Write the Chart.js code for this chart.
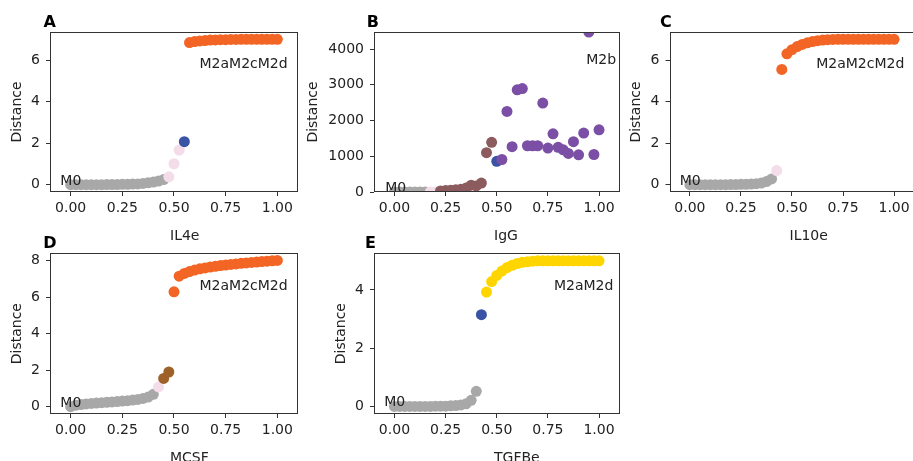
<!DOCTYPE html>
<html><head><meta charset="utf-8">
<script src="https://cdn.jsdelivr.net/npm/chart.js@4.4.1/dist/chart.umd.min.js"></script>
<style>
html,body{margin:0;padding:0;background:#fff;overflow:hidden;width:913px;height:461px;position:relative}
canvas{position:absolute}
</style></head><body>
<canvas id="cA"></canvas><canvas id="cB"></canvas><canvas id="cC"></canvas><canvas id="cD"></canvas><canvas id="cE"></canvas>
<script>
// ---------------- DATA ----------------
const doseLevels = [0, 0.025, 0.05, 0.075, 0.1, 0.125, 0.15, 0.175, 0.2, 0.225,
  0.25, 0.275, 0.3, 0.325, 0.35, 0.375, 0.4, 0.425, 0.45, 0.475,
  0.5, 0.525, 0.55, 0.575, 0.6, 0.625, 0.65, 0.675, 0.7, 0.725,
  0.75, 0.775, 0.8, 0.825, 0.85, 0.875, 0.9, 0.925, 0.95, 0.975, 1.0];

const xTickValues = [0, 0.25, 0.5, 0.75, 1.0];
const xTickLabels = ["0.00", "0.25", "0.50", "0.75", "1.00"];

// Panel A: IL4e
const il4eDistance = [0, 0, 0, 0, 0, 0, 0, 0.01, 0.01, 0.01,
  0.02, 0.02, 0.03, 0.04, 0.06, 0.09, 0.13, 0.18, 0.25, 0.38,
  1.01, 1.66, 2.07, 6.84, 6.89, 6.92, 6.94, 6.96, 6.97, 6.98,
  6.98, 6.99, 6.99, 7.0, 7.0, 7.0, 7.0, 7.0, 7.0, 7.0, 7.0];
const il4eState = ["M0","M0","M0","M0","M0","M0","M0","M0","M0","M0",
  "M0","M0","M0","M0","M0","M0","M0","M0","M0","S1",
  "S1","S1","S2","M2aM2cM2d","M2aM2cM2d","M2aM2cM2d","M2aM2cM2d","M2aM2cM2d","M2aM2cM2d","M2aM2cM2d",
  "M2aM2cM2d","M2aM2cM2d","M2aM2cM2d","M2aM2cM2d","M2aM2cM2d","M2aM2cM2d","M2aM2cM2d","M2aM2cM2d","M2aM2cM2d","M2aM2cM2d","M2aM2cM2d"];
const il4eYTicks = [0, 2, 4, 6];

// Panel B: IgG
const iggDistance = [0, 0, 0, 0, 0, 0, 0, 0, 0, 30,
  40, 50, 60, 75, 110, 190, 170, 250, 1100, 1390,
  860, 910, 2255, 1270, 2860, 2895, 1295, 1295, 1295, 2490,
  1230, 1630, 1250, 1180, 1080, 1410, 1040, 1650, 4480, 1050, 1740];
const iggState = ["M0","M0","M0","M0","M0","M0","M0","S1","S1","S3",
  "S3","S3","S3","S3","S3","S3","S3","S3","S3","S3",
  "S2","M2b","M2b","M2b","M2b","M2b","M2b","M2b","M2b","M2b",
  "M2b","M2b","M2b","M2b","M2b","M2b","M2b","M2b","M2b","M2b","M2b"];
const iggYTicks = [0, 1000, 2000, 3000, 4000];

// Panel C: IL10e
const il10eDistance = [0, 0, 0, 0, 0, 0, 0, 0, 0.01, 0.01,
  0.02, 0.02, 0.03, 0.05, 0.08, 0.15, 0.28, 0.68, 5.55, 6.3,
  6.5, 6.65, 6.75, 6.83, 6.89, 6.93, 6.96, 6.98, 6.99, 7.0,
  7.0, 7.0, 7.0, 7.0, 7.0, 7.0, 7.0, 7.0, 7.0, 7.0, 7.0];
const il10eState = ["M0","M0","M0","M0","M0","M0","M0","M0","M0","M0",
  "M0","M0","M0","M0","M0","M0","M0","S1","M2aM2cM2d","M2aM2cM2d",
  "M2aM2cM2d","M2aM2cM2d","M2aM2cM2d","M2aM2cM2d","M2aM2cM2d","M2aM2cM2d","M2aM2cM2d","M2aM2cM2d","M2aM2cM2d","M2aM2cM2d",
  "M2aM2cM2d","M2aM2cM2d","M2aM2cM2d","M2aM2cM2d","M2aM2cM2d","M2aM2cM2d","M2aM2cM2d","M2aM2cM2d","M2aM2cM2d","M2aM2cM2d","M2aM2cM2d"];
const il10eYTicks = [0, 2, 4, 6];

// Panel D: MCSF
const mcsfDistance = [0, 0.08, 0.12, 0.15, 0.18, 0.2, 0.22, 0.24, 0.26, 0.28,
  0.31, 0.33, 0.36, 0.4, 0.45, 0.53, 0.68, 1.08, 1.55, 1.9,
  6.29, 7.15, 7.3, 7.4, 7.48, 7.55, 7.6, 7.65, 7.69, 7.73,
  7.76, 7.79, 7.82, 7.85, 7.87, 7.9, 7.92, 7.95, 7.97, 7.99, 8.01];
const mcsfState = ["M0","M0","M0","M0","M0","M0","M0","M0","M0","M0",
  "M0","M0","M0","M0","M0","M0","M0","S1","S4","S4",
  "M2aM2cM2d","M2aM2cM2d","M2aM2cM2d","M2aM2cM2d","M2aM2cM2d","M2aM2cM2d","M2aM2cM2d","M2aM2cM2d","M2aM2cM2d","M2aM2cM2d",
  "M2aM2cM2d","M2aM2cM2d","M2aM2cM2d","M2aM2cM2d","M2aM2cM2d","M2aM2cM2d","M2aM2cM2d","M2aM2cM2d","M2aM2cM2d","M2aM2cM2d","M2aM2cM2d"];
const mcsfYTicks = [0, 2, 4, 6, 8];

// Panel E: TGFBe
const tgfbeDistance = [0, 0, 0, 0, 0, 0, 0, 0, 0.01, 0.01,
  0.01, 0.02, 0.03, 0.05, 0.09, 0.21, 0.52, 3.15, 3.93, 4.29,
  4.5, 4.65, 4.77, 4.85, 4.91, 4.95, 4.97, 4.99, 5.0, 5.0,
  5.0, 5.0, 5.0, 5.0, 5.0, 5.0, 5.0, 5.0, 5.0, 5.0, 5.0];
const tgfbeState = ["M0","M0","M0","M0","M0","M0","M0","M0","M0","M0",
  "M0","M0","M0","M0","M0","M0","M0","S2","M2aM2d","M2aM2d",
  "M2aM2d","M2aM2d","M2aM2d","M2aM2d","M2aM2d","M2aM2d","M2aM2d","M2aM2d","M2aM2d","M2aM2d",
  "M2aM2d","M2aM2d","M2aM2d","M2aM2d","M2aM2d","M2aM2d","M2aM2d","M2aM2d","M2aM2d","M2aM2d","M2aM2d"];
const tgfbeYTicks = [0, 2, 4];

// ---------------- STYLE ----------------
const stateColors = {
  M0: "#a8a8a8", S1: "#f5dce9", S2: "#3a54a5", S3: "#8c5b5e", S4: "#9e6128",
  M2aM2cM2d: "#f26524", M2b: "#7a4fa5", M2aM2d: "#ffd500"
};
const TEXT = "#222";
const AX = "#333";
const FONT = '"DejaVu Sans", sans-serif';

const panels = [
  { id: "cA", letter: "A", xTitle: "IL4e", y: il4eDistance, st: il4eState, yt: il4eYTicks, ymin: -0.35, ymax: 7.35,
    box: {l: 0, t: 0, w: 310, h: 250}, ca: {l: 50, t: 32, r: 298, b: 192}, yTitleC: 17, letterX: 43.5,
    notes: [{t: "M0", x: -0.05, y: 0, a: "left"}, {t: "M2aM2cM2d", x: 1.05, y: 5.6, a: "right"}] },
  { id: "cB", letter: "B", xTitle: "IgG", y: iggDistance, st: iggState, yt: iggYTicks, ymin: 0, ymax: 4480,
    box: {l: 300, t: 0, w: 325, h: 250}, ca: {l: 374, t: 32, r: 620, b: 192}, yTitleC: 313.3, letterX: 366.7,
    notes: [{t: "M0", x: -0.045, y: 10, a: "left"}, {t: "M2b", x: 1.083, y: 3580, a: "right"}] },
  { id: "cC", letter: "C", xTitle: "IL10e", y: il10eDistance, st: il10eState, yt: il10eYTicks, ymin: -0.35, ymax: 7.35,
    box: {l: 620, t: 0, w: 300, h: 250}, ca: {l: 669.5, t: 32, r: 916, b: 192}, yTitleC: 636.2, letterX: 660,
    notes: [{t: "M0", x: -0.05, y: 0, a: "left"}, {t: "M2aM2cM2d", x: 1.05, y: 5.6, a: "right"}] },
  { id: "cD", letter: "D", xTitle: "MCSF", y: mcsfDistance, st: mcsfState, yt: mcsfYTicks, ymin: -0.4, ymax: 8.4,
    box: {l: 0, t: 225, w: 310, h: 250}, ca: {l: 50, t: 253.3, r: 298, b: 414}, yTitleC: 17.5, letterX: 43.3,
    notes: [{t: "M0", x: -0.05, y: 0, a: "left"}, {t: "M2aM2cM2d", x: 1.05, y: 6.4, a: "right"}] },
  { id: "cE", letter: "E", xTitle: "TGFBe", y: tgfbeDistance, st: tgfbeState, yt: tgfbeYTicks, ymin: -0.26, ymax: 5.26,
    box: {l: 320, t: 225, w: 305, h: 250}, ca: {l: 374, t: 253.3, r: 620, b: 414}, yTitleC: 341.3, letterX: 365,
    notes: [{t: "M0", x: -0.05, y: 0, a: "left"}, {t: "M2aM2d", x: 1.07, y: 4.0, a: "right"}] }
];

Chart.defaults.font.family = FONT;
Chart.defaults.color = TEXT;

panels.forEach(p => {
  const cv = document.getElementById(p.id);
  cv.width = p.box.w; cv.height = p.box.h;
  cv.style.left = p.box.l + "px"; cv.style.top = p.box.t + "px";
  cv.style.width = p.box.w + "px"; cv.style.height = p.box.h + "px";
  const yW = p.ca.l - p.box.l;
  const xH = p.box.t + p.box.h - p.ca.b;
  const deco = {
    id: "deco" + p.letter,
    afterDatasetsDraw(chart) {
      const {ctx, scales: {x, y}} = chart;
      ctx.save();
      ctx.fillStyle = TEXT;
      ctx.font = "14px " + FONT;
      ctx.textBaseline = "alphabetic";
      p.notes.forEach(n => {
        ctx.textAlign = n.a;
        ctx.fillText(n.t, x.getPixelForValue(n.x), y.getPixelForValue(n.y));
      });
      ctx.restore();
    },
    afterDraw(chart) {
      const {ctx, chartArea: a} = chart;
      ctx.save();
      ctx.strokeStyle = AX; ctx.lineWidth = 1;
      const L = Math.round(a.left) + 0.5, T = Math.round(a.top) + 0.5;
      const R = Math.round(a.right) - 0.5, B = Math.round(a.bottom) - 0.5;
      ctx.strokeRect(L, T, R - L, B - T);
      ctx.fillStyle = "#000";
      ctx.font = "bold 16px " + FONT;
      ctx.textAlign = "left"; ctx.textBaseline = "alphabetic";
      ctx.fillText(p.letter, p.letterX - p.box.l, a.top - 5.2);
      ctx.fillStyle = TEXT;
      ctx.font = "14px " + FONT;
      ctx.fillText(p.xTitle, a.left + 120, a.bottom + 47.5);
      ctx.restore();
    }
  };
  new Chart(cv, {
    type: "scatter",
    data: { datasets: [{
      data: doseLevels.map((d, i) => ({x: d, y: p.y[i]})),
      backgroundColor: ctx => stateColors[p.st[ctx.dataIndex]],
      borderWidth: 0, pointRadius: 5.5, pointHoverRadius: 5.5
    }]},
    options: {
      responsive: false, animation: false, devicePixelRatio: 1,
      layout: { padding: { top: p.ca.t - p.box.t, right: p.box.l + p.box.w - p.ca.r, left: 0, bottom: 0 } },
      plugins: { legend: {display: false}, tooltip: {enabled: false} },
      scales: {
        x: {
          type: "linear", min: -0.1, max: 1.1,
          afterBuildTicks: s => { s.ticks = xTickValues.map(v => ({value: v})); },
          afterFit: s => { s.height = xH; },
          ticks: { callback: (v, i) => xTickLabels[i], font: {size: 14}, color: TEXT, padding: 4, maxRotation: 0, autoSkip: false },
          grid: { drawOnChartArea: false, drawTicks: true, tickLength: 4, color: AX },
          border: { display: false }
        },
        y: {
          type: "linear", min: p.ymin, max: p.ymax,
          afterBuildTicks: s => { s.ticks = p.yt.map(v => ({value: v})); },
          afterFit: s => { s.width = yW; },
          ticks: { callback: v => String(v), font: {size: 14}, color: TEXT, padding: 6, autoSkip: false },
          grid: { drawOnChartArea: false, drawTicks: true, tickLength: 4, color: AX },
          border: { display: false },
          title: { display: true, text: "Distance", font: {size: 14}, color: TEXT,
                   padding: { top: p.yTitleC - p.box.l - 8.4, bottom: 0 } }
        }
      }
    },
    plugins: [deco]
  });
});
</script>
</body></html>
